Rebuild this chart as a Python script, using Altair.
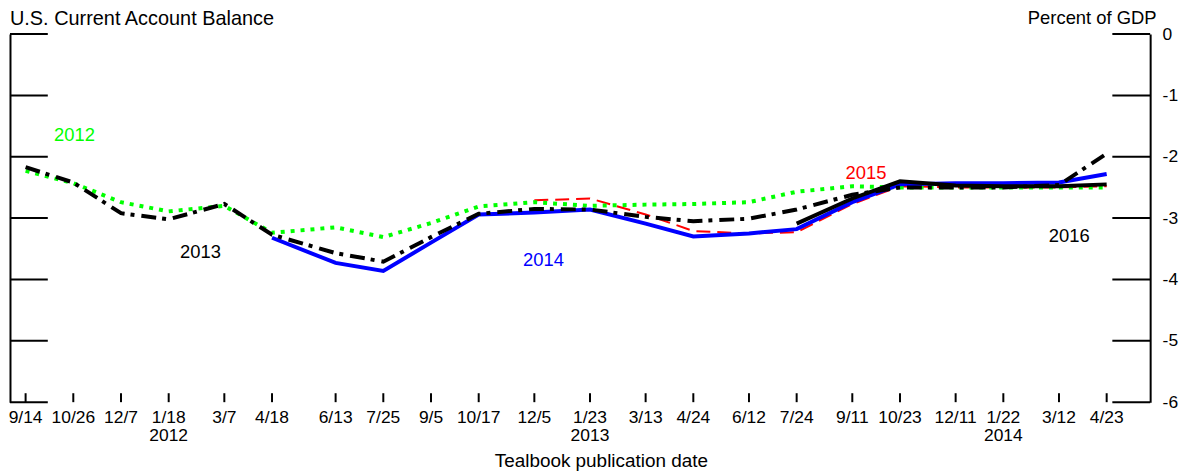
import altair as alt
import pandas as pd

# ---------------- data ----------------
pub_dates = ["2011-09-14", "2011-10-26", "2011-12-07", "2012-01-18", "2012-03-07",
             "2012-04-18", "2012-06-13", "2012-07-25", "2012-09-05", "2012-10-17",
             "2012-12-05", "2013-01-23", "2013-03-13", "2013-04-24", "2013-06-12",
             "2013-07-24", "2013-09-11", "2013-10-23", "2013-12-11", "2014-01-22",
             "2014-03-12", "2014-04-23"]
tick_labels = ["9/14", "10/26", "12/7", "1/18", "3/7", "4/18", "6/13", "7/25", "9/5",
               "10/17", "12/5", "1/23", "3/13", "4/24", "6/12", "7/24", "9/11", "10/23",
               "12/11", "1/22", "3/12", "4/23"]

year_dates = ["2012-01-18", "2013-01-23", "2014-01-22"]
year_labels = ["2012", "2013", "2014"]

series_names = ["2012", "2013", "2014", "2015", "2016"]

s2012 = [-2.23, -2.43, -2.74, -2.89, -2.80, -3.24, -3.15, -3.31, -3.08, -2.81, -2.74,
         -2.80, -2.78, -2.77, -2.74, -2.57, -2.48, -2.50, -2.50, -2.50, -2.50, -2.50]
s2013 = [-2.17, -2.42, -2.92, -3.02, -2.77, -3.27, -3.57, -3.71, -3.31, -2.93, -2.85,
         -2.86, -2.98, -3.05, -3.01, -2.86, -2.62, -2.50, -2.50, -2.50, -2.46, -1.95]
s2014 = [None, None, None, None, None, -3.32, -3.73, -3.86, -3.40, -2.94, -2.91,
         -2.86, -3.09, -3.30, -3.25, -3.18, -2.74, -2.45, -2.43, -2.43, -2.42, -2.28]
s2015 = [None, None, None, None, None, None, None, None, None, None, -2.71,
         -2.68, -2.94, -3.21, -3.25, -3.23, -2.77, -2.48, -2.50, -2.50, -2.50, -2.48]
s2016 = [None, None, None, None, None, None, None, None, None, None, None,
         None, None, None, None, -3.09, -2.68, -2.40, -2.47, -2.48, -2.48, -2.45]

series_colors = ["#00ff00", "#000000", "#0000ff", "#ff0000", "#000000"]

y_ticks = [0, -1, -2, -3, -4, -5, -6]

label_dates = ["2011-10-27", "2012-02-15", "2012-12-13", "2013-09-23", "2014-03-21"]
label_values = [-1.64, -3.55, -3.68, -2.26, -3.30]

title_text = "U.S. Current Account Balance"
x_title = "Tealbook publication date"
x_title_date = "2013-02-02"

# ---------------- tables ----------------
rows = []
for name, vals in zip(series_names, [s2012, s2013, s2014, s2015, s2016]):
    for d, v in zip(pub_dates, vals):
        if v is not None:
            rows.append({"date": d, "value": v, "series": name})
df = pd.DataFrame(rows)
tick_df = pd.DataFrame({"date": pub_dates, "label": tick_labels})
year_df = pd.DataFrame({"date": year_dates, "label": year_labels})
ytick_df = pd.DataFrame({"v": y_ticks})
lab_df = pd.DataFrame({"date": label_dates, "value": label_values, "series": series_names})
title_df = pd.DataFrame({"t": [title_text]})
xtitle_df = pd.DataFrame({"date": [x_title_date], "t": [x_title]})


def ms(s):
    return int(pd.Timestamp(s, tz="UTC").value // 10**6)


W, H = 1146, 370
FONT = "Liberation Sans"

x_scale = alt.Scale(type="utc", domain=[ms("2011-08-31T06:00"), ms("2014-05-31T07:00")])
y_scale = alt.Scale(domain=[-6, 0], nice=False, zero=False)
color_scale = alt.Scale(domain=series_names, range=series_colors)

x_axis = alt.Axis(
    orient="bottom", labels=False, ticks=False, grid=False, title=None,
    domain=True, domainColor="black", domainWidth=2,
)

y_axis_right = alt.Axis(
    orient="right", values=y_ticks, labelExpr="'' + datum.value",
    ticks=False, tickSize=0, grid=False,
    domain=True, domainColor="black", domainWidth=2,
    labelFontSize=17.5, labelPadding=12, labelColor="black", labelFont=FONT,
    labelBaseline="middle",
    title="Percent of GDP", titleAngle=0, titleAlign="right", titleBaseline="alphabetic",
    titleX=6, titleY=-11, titleFontSize=18.5, titleFontWeight="normal",
    titleFont=FONT, titleColor="black",
)

y_axis_left = alt.Axis(
    orient="left", labels=False, ticks=False, tickSize=0, grid=False,
    domain=True, domainColor="black", domainWidth=2, title=None,
)

styles = {
    "2012": dict(color="#00ff00", strokeDash=[4, 6], strokeWidth=4),
    "2013": dict(color="#000000", strokeDash=[15, 6, 4, 7], strokeWidth=4),
    "2014": dict(color="#0000ff", strokeWidth=4),
    "2015": dict(color="#ff0000", strokeDash=[14, 7], strokeWidth=2),
    "2016": dict(color="#000000", strokeWidth=4),
}
draw_order = ["2015", "2012", "2014", "2013", "2016"]

layers = []
for i, name in enumerate(draw_order):
    first = i == 0
    layers.append(
        alt.Chart(df)
        .transform_filter(alt.datum.series == name)
        .mark_line(strokeCap="butt", **styles[name])
        .encode(
            x=alt.X("date:T", scale=x_scale, axis=None),
            y=alt.Y("value:Q", scale=y_scale, axis=y_axis_right if first else None),
        )
    )

left_ticks = alt.Chart(ytick_df).mark_rule(color="black", strokeWidth=2).encode(
    y=alt.Y("v:Q", scale=y_scale, axis=y_axis_left),
    x=alt.value(0), x2=alt.value(38),
)
right_ticks = alt.Chart(ytick_df).mark_rule(color="black", strokeWidth=2).encode(
    y=alt.Y("v:Q", scale=y_scale, axis=None),
    x=alt.value(W - 38), x2=alt.value(W),
)
x_ticks = alt.Chart(tick_df).mark_rule(color="black", strokeWidth=2).encode(
    x=alt.X("date:T", scale=x_scale, axis=x_axis),
    y=alt.value(H), y2=alt.value(H - 9),
)
x_tick_text = alt.Chart(tick_df).mark_text(fontSize=17.5, font=FONT, baseline="alphabetic", align="center", color="black").encode(
    x=alt.X("date:T", scale=x_scale, axis=None),
    y=alt.value(H + 20.5),
    text="label:N",
)
year_text = alt.Chart(year_df).mark_text(fontSize=17.5, font=FONT, baseline="alphabetic", align="center", color="black").encode(
    x=alt.X("date:T", scale=x_scale, axis=None),
    y=alt.value(H + 39),
    text="label:N",
)
x_title_text = alt.Chart(xtitle_df).mark_text(fontSize=19, font=FONT, baseline="alphabetic", align="center", color="black").encode(
    x=alt.X("date:T", scale=x_scale, axis=None),
    y=alt.value(H + 65),
    text="t:N",
)
labels = alt.Chart(lab_df).mark_text(fontSize=18.5, font=FONT, baseline="middle", align="center").encode(
    x=alt.X("date:T", scale=x_scale, axis=None),
    y=alt.Y("value:Q", scale=y_scale, axis=None),
    text="series:N",
    color=alt.Color("series:N", scale=color_scale, legend=None),
)
title = alt.Chart(title_df).mark_text(fontSize=20, font=FONT, align="left", baseline="alphabetic", color="black").encode(
    text="t:N", x=alt.value(0), y=alt.value(-9),
)

chart = (
    alt.layer(*layers, left_ticks, right_ticks, x_ticks, x_tick_text, year_text,
              x_title_text, labels, title)
    .resolve_axis(y="independent")
    .properties(
        width=W, height=H,
        autosize=alt.AutoSizeParams(type="none"),
        padding={"left": 2, "top": 25, "right": 30, "bottom": 70},
    )
    .configure_view(stroke=None)
    .configure_text(font=FONT)
)

chart.save("out.html", embed_options={"renderer": "svg", "actions": False})
